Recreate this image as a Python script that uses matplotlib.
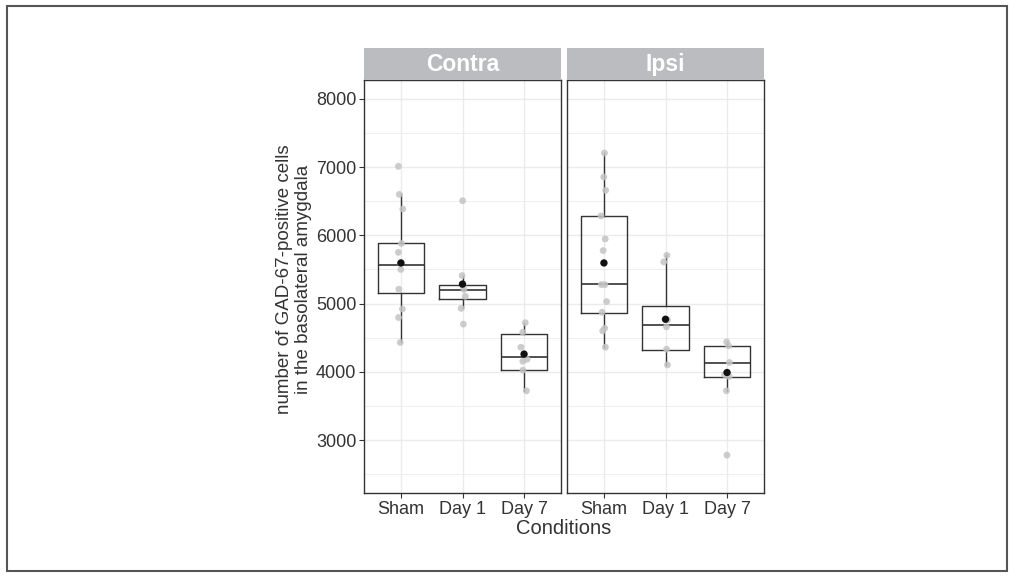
import numpy as np
import matplotlib.pyplot as plt
from matplotlib.patches import Rectangle

plt.rcParams['font.family'] = ['Liberation Sans', 'DejaVu Sans']

# 分组与面板
conditions = ["Sham", "Day 1", "Day 7"]
panels = ["Contra", "Ipsi"]

# 各组细胞计数（原始点）
contra_sham = [7010, 6600, 6385, 5880, 5750, 5590, 5500, 5210, 4920, 4795, 4430]
contra_day1 = [6507, 5410, 5255, 5207, 5105, 4930, 4698]
contra_day7 = [4720, 4580, 4360, 4185, 4155, 4025, 3722]
ipsi_sham = [7205, 6854, 6659, 6283, 5946, 5776, 5278, 5278, 5029, 4873, 4639, 4600, 4361]
ipsi_day1 = [5707, 5610, 4761, 4659, 4332, 4102]
ipsi_day7 = [4439, 4380, 4137, 3960, 3932, 3722, 2780]

# 箱线图统计量：下须, Q1, 中位数, Q3, 上须
contra_whislo = [4430, 4930, 3720]
contra_q1 = [5150, 5065, 4030]
contra_med = [5560, 5200, 4215]
contra_q3 = [5880, 5270, 4560]
contra_whishi = [6600, 5410, 4720]

ipsi_whislo = [4360, 4100, 3720]
ipsi_q1 = [4865, 4320, 3920]
ipsi_med = [5280, 4680, 4130]
ipsi_q3 = [6280, 4970, 4380]
ipsi_whishi = [7200, 5710, 4440]

# 均值
contra_mean = [5595, 5285, 4260]
ipsi_mean = [5595, 4770, 3990]

points = {"Contra": [contra_sham, contra_day1, contra_day7],
          "Ipsi": [ipsi_sham, ipsi_day1, ipsi_day7]}
box_stats = {"Contra": (contra_whislo, contra_q1, contra_med, contra_q3, contra_whishi),
             "Ipsi": (ipsi_whislo, ipsi_q1, ipsi_med, ipsi_q3, ipsi_whishi)}
means = {"Contra": contra_mean, "Ipsi": ipsi_mean}

W, H = 1013, 576
fig = plt.figure(figsize=(W / 100, H / 100), dpi=100)

# 外边框
fig.patches.append(Rectangle((7 / W, 1 - 571 / H), 1000 / W, 565 / H, transform=fig.transFigure,
                             fill=False, edgecolor='#555555', linewidth=1.5))

def px_axes(x0, y0, x1, y1):
    return fig.add_axes([x0 / W, 1 - y1 / H, (x1 - x0) / W, (y1 - y0) / H])

rng = np.random.default_rng(3)
grid_col = '#EBEBEB'
txt_col = '#333333'

panel_x = [(364, 561), (567, 764)]
for p, name in enumerate(panels):
    x0, x1 = panel_x[p]
    ax = px_axes(x0, 80, x1, 493)
    ax.set_xlim(0.4, 3.6)
    ax.set_ylim(2225, 8275)

    # 网格
    for yv in np.arange(2500, 8001, 500):
        lw = 1.0 if yv % 1000 == 0 else 0.6
        ax.axhline(yv, color=grid_col, lw=lw, zorder=0)
    for xv in range(1, 4):
        ax.axvline(xv, color=grid_col, lw=1.0, zorder=0)

    # 箱线图
    lo, q1, med, q3, hi = box_stats[name]
    stats = []
    for i in range(3):
        stats.append(dict(whislo=lo[i], q1=q1[i], med=med[i], q3=q3[i], whishi=hi[i], fliers=[]))
    ax.bxp(stats, positions=[1, 2, 3], widths=0.75, showfliers=False, showcaps=False,
           boxprops=dict(color='#333333', lw=1.0),
           whiskerprops=dict(color='#333333', lw=1.0),
           medianprops=dict(color='#333333', lw=1.2), zorder=2)

    # 原始点（轻微抖动）
    for i, vals in enumerate(points[name]):
        xs = i + 1 + rng.uniform(-0.05, 0.05, len(vals))
        ax.scatter(xs, vals, s=24, color='#C4C4C4', alpha=0.85, edgecolors='none', zorder=3)

    # 均值
    ax.scatter([1, 2, 3], means[name], s=28, color='#111111', edgecolors='none', zorder=4)

    ax.set_xticks([1, 2, 3])
    ax.set_xticklabels(conditions, fontsize=13, color=txt_col)
    ax.tick_params(axis='both', length=3.5, width=0.8, color='#333333', pad=2)
    for s in ax.spines.values():
        s.set_color('#333333')
        s.set_linewidth(1.0)
    if p == 0:
        ax.set_yticks(np.arange(3000, 8001, 1000))
        ax.set_yticklabels([str(v) for v in range(3000, 8001, 1000)], fontsize=13, color=txt_col)
    else:
        ax.set_yticks([])

    # 分面标题条
    sax = px_axes(x0, 48, x1, 80)
    sax.set_xticks([])
    sax.set_yticks([])
    sax.set_facecolor('#BBBCBF')
    for s in sax.spines.values():
        s.set_visible(False)
    sax.text(0.5, 0.48, name, ha='center', va='center', fontsize=16.5, fontweight='bold',
             color='white', transform=sax.transAxes)

fig.text(294 / W, 1 - 279 / H, "number of GAD-67-positive cells\nin the basolateral amygdala",
         rotation=90, ha='center', va='center', fontsize=13.5, color=txt_col, linespacing=1.12)
fig.text(564 / W, 1 - 529 / H, "Conditions", ha='center', va='center', fontsize=14.5, color=txt_col)

fig.savefig("out.png", dpi=100)
